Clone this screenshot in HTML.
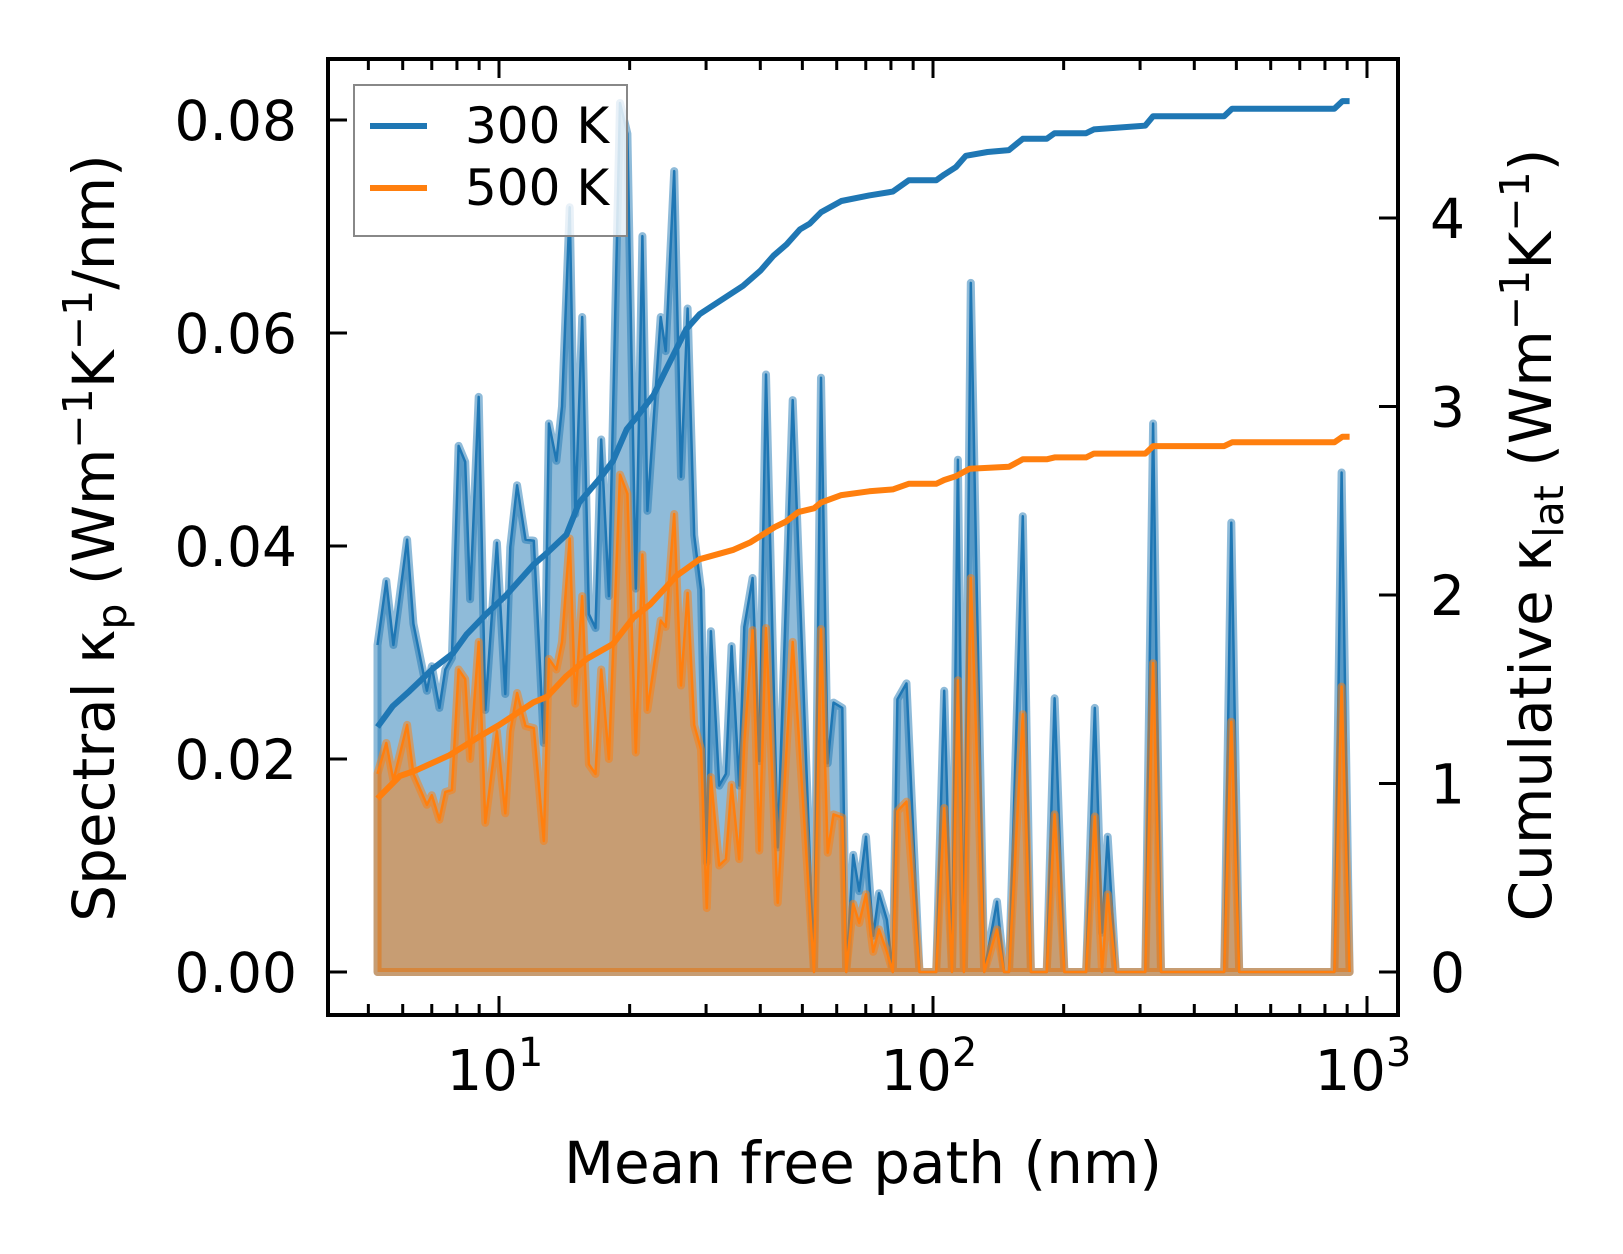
<!DOCTYPE html>
<html><head><meta charset="utf-8">
<style>
html,body{margin:0;padding:0;background:#fff;}
svg{display:block;}
text{font-family:"DejaVu Sans","Liberation Sans",sans-serif;fill:#000;}
</style></head>
<body>
<svg id="chart" width="1623" height="1254" viewBox="0 0 1623 1254" xmlns="http://www.w3.org/2000/svg">
<rect x="0" y="0" width="1623" height="1254" fill="#fff"/>
<g id="plot"></g>
<g id="axes"></g>
</svg>
<script>
// ---- data ----
const mfp = [5.25,5.50,5.71,6.14,6.35,6.82,7.00,7.29,7.52,7.79,8.07,8.36,8.58,8.98,9.30,9.89,10.34,10.62,11.01,11.51,12.03,12.68,13.03,13.56,13.97,14.55,14.99,15.55,16.11,16.69,17.20,17.92,19.00,19.76,20.66,21.40,21.97,23.58,24.22,25.33,26.27,27.20,28.17,29.20,30.12,30.78,32.17,33.33,34.35,35.77,36.74,38.40,39.80,41.23,43.87,47.5,
53.2,55.2,57.2,59.0,61.8,63.1,65.5,67.6,70.1,72.8,75.1,78.3,80.8,82.8,86.9,93.1,101.7,106.1,110.6,114.1,117.8,122.2,131.2,140.4,145.8,149.7,161.0,168.1,182.8,190.6,200.8,225.3,235.9,245.1,252.7,263.7,308.5,321.5,335.3,468.8,486.7,507.6,841,874,912];
const spec300 = [.0307,.0367,.0307,.0406,.0327,.0264,.0287,.0248,.0284,.0295,.0494,.0479,.0350,.0540,.0246,.0403,.0261,.0399,.0457,.0406,.0405,.0215,.0515,.0480,.0531,.0718,.0430,.0615,.0336,.0323,.0500,.0353,.0816,.0787,.0360,.0691,.0433,.0615,.0583,.0752,.0465,.0623,.0410,.0359,.0103,.0320,.0175,.0186,.0306,.0175,.0324,.0370,.0198,.0561,.0117,.0537,
0,.0558,.0196,.0253,.0248,0,.0110,.0076,.0127,.0034,.0074,.0049,0,.0256,.0271,0,0,.0264,0,.0481,0,.0647,0,.0066,0,0,.0428,0,0,.0257,0,0,.0248,.0037,.0127,0,0,.0515,0,0,.0422,0,0,.0469,0];
const spec500 = [.0186,.0215,.0180,.0232,.0186,.0157,.0166,.0143,.0169,.0171,.0284,.0275,.0200,.0310,.0140,.0226,.0149,.0226,.0262,.0231,.0229,.0123,.0294,.0284,.0310,.0407,.0252,.0353,.0195,.0186,.0284,.0200,.0467,.0449,.0206,.0392,.0246,.0330,.0324,.0430,.0269,.0356,.0232,.0209,.0060,.0183,.0100,.0106,.0176,.0106,.0215,.0321,.0114,.0323,.0065,.0310,
0,.0322,.0112,.0148,.0145,0,.0064,.0046,.0073,.0019,.0040,.0019,0,.0151,.0160,0,0,.0154,0,.0274,0,.0370,0,.0040,0,0,.0242,0,0,.0148,0,0,.0146,0,.0073,0,0,.0290,0,0,.0235,0,0,.0268,0];
const cumX300 = [5.25,5.69,6.22,7.05,7.83,8.41,9.35,10.4,12.0,13.0,14.3,15.3,17.1,18.3,19.7,20.7,22.7,24.3,27.0,29.0,32.3,36.5,40.0,42.9,46.0,49.4,52.0,55.2,61.5,71.3,80.8,87.9,101.7,106.1,112.9,119,133.5,149.7,161.0,182.8,190.6,225.3,234.8,308.5,321.5,468.8,488.9,841,878,912];
const cum300 = [1.30,1.41,1.49,1.61,1.69,1.79,1.90,2.00,2.16,2.23,2.32,2.49,2.62,2.71,2.88,2.94,3.06,3.20,3.41,3.49,3.56,3.64,3.72,3.80,3.86,3.94,3.97,4.03,4.09,4.12,4.14,4.20,4.20,4.23,4.27,4.33,4.35,4.36,4.42,4.42,4.45,4.45,4.47,4.49,4.54,4.54,4.58,4.58,4.62,4.62];
const cumX500 = [5.25,5.91,6.44,7.69,9.02,10.0,12.0,12.9,14.3,15.9,18.3,20.4,22.3,25.6,29.0,34.7,38.0,40.5,43.2,45.9,48.9,53.2,55.2,61.5,71.3,80.8,87.9,101.7,106.1,112.9,121.5,149.7,161.0,182.8,190.6,225.3,234.8,308.5,321.5,468.8,488.9,841,878,912];
const cum500 = [0.92,1.04,1.07,1.15,1.25,1.31,1.43,1.46,1.57,1.66,1.74,1.88,1.95,2.10,2.19,2.24,2.28,2.32,2.36,2.39,2.44,2.46,2.49,2.53,2.55,2.56,2.59,2.59,2.61,2.63,2.67,2.68,2.72,2.72,2.73,2.73,2.75,2.75,2.79,2.79,2.81,2.81,2.84,2.84];
const yTicksL = [0,0.02,0.04,0.06,0.08];
const yTickLabelsL = ["0.00","0.02","0.04","0.06","0.08"];
const yTicksR = [0,1,2,3,4];
const xMajor = [1,2,3];

// ---- axes geometry ----
const L=328,R=1398,T=59,B=1015;
const X = v => 499 + 434*(Math.log10(v)-1);
const YL = v => 972 - v*10650;
const YR = v => 972 - v*188.5;
const NS="http://www.w3.org/2000/svg";
const plot=document.getElementById('plot'), axes=document.getElementById('axes');
function mk(tag,attrs,parent){const e=document.createElementNS(NS,tag);for(const k in attrs)e.setAttribute(k,attrs[k]);parent.appendChild(e);return e;}

function drawSpec(vals,color,name){
  let d=`M${X(mfp[0])},${YL(0)}`;
  mfp.forEach((m,i)=>{d+=` L${X(m).toFixed(1)},${YL(vals[i]).toFixed(1)}`;});
  d+=` L${X(mfp[mfp.length-1])},${YL(0)} Z`;
  const f=mk('path',{d:d,fill:color,'fill-opacity':0.5,stroke:color,'stroke-opacity':0.5,'stroke-width':8,'stroke-linejoin':'round'},plot);
  
  
  let d2='';
  mfp.forEach((m,i)=>{d2+=(i?' L':'M')+X(m).toFixed(1)+','+YL(vals[i]).toFixed(1);});
  const l=mk('path',{d:d2,fill:'none',stroke:color,'stroke-width':2.5,'stroke-linejoin':'round'},plot);
  
  
}
drawSpec(spec300,'#1f77b4','spectral-300k');
drawSpec(spec500,'#ff7f0e','spectral-500k');

function drawCum(xs,vals,color,name){
  let d='';
  xs.forEach((m,i)=>{d+=(i?' L':'M')+X(m).toFixed(1)+','+YR(vals[i]).toFixed(1);});
  const p=mk('path',{d:d,fill:'none',stroke:color,'stroke-width':6,'stroke-linejoin':'round'},plot);
  
  
}
drawCum(cumX300,cum300,'#1f77b4','cumulative-300k');
drawCum(cumX500,cum500,'#ff7f0e','cumulative-500k');

// spines
const sp=mk('rect',{x:L,y:T,width:R-L,height:B-T,fill:'none',stroke:'#000','stroke-width':4},axes);



// x ticks
for(let dec=0;dec<=3;dec++){
  for(let k=1;k<10;k++){
    const v=k*Math.pow(10,dec);
    const x=X(v);
    if(x<L+2||x>R-2) continue;
    const len=k===1?19:11;
    const t1=mk('line',{x1:x,x2:x,y1:B,y2:B-len,stroke:'#000','stroke-width':3},axes);
    
    
    const t2=mk('line',{x1:x,x2:x,y1:T,y2:T+len,stroke:'#000','stroke-width':3},axes);
    
    
  }
}
xMajor.forEach(e=>{
  const x=X(Math.pow(10,e));
  const t=mk('text',{x:x-4,y:1090,'font-size':56,'text-anchor':'middle'},axes);
  t.innerHTML=`10<tspan dy="-24" font-size="40">${e}</tspan>`;
  
  
});
// left y ticks
yTicksL.forEach((v,i)=>{
  const y=YL(v);
  const l=mk('line',{x1:L,x2:L+19,y1:y,y2:y,stroke:'#000','stroke-width':3},axes);
  
  
  const t=mk('text',{x:297,y:y+20,'font-size':55,'text-anchor':'end'},axes);
  t.textContent=yTickLabelsL[i];
  
  
});
// right y ticks
yTicksR.forEach(v=>{
  const y=YR(v);
  const l=mk('line',{x1:R,x2:R-19,y1:y,y2:y,stroke:'#000','stroke-width':3},axes);
  
  
  const t=mk('text',{x:1430,y:y+20,'font-size':55,'text-anchor':'start'},axes);
  t.textContent=String(v);
  
  
});
</script>
<svg style="position:absolute;left:0;top:0" width="1623" height="1254">
<text x="863" y="1183" font-size="58" text-anchor="middle">Mean free path (nm)</text>
<text transform="translate(114,538) rotate(-90)" font-size="58" text-anchor="middle">Spectral κ<tspan dy="12" font-size="41">p</tspan><tspan dy="-12"> (Wm</tspan><tspan dy="-22" font-size="41">−1</tspan><tspan dy="22">K</tspan><tspan dy="-22" font-size="41">−1</tspan><tspan dy="22">/nm)</tspan></text>
<text transform="translate(1551,535) rotate(-90)" font-size="58" text-anchor="middle">Cumulative κ<tspan dy="12" font-size="41">lat</tspan><tspan dy="-12"> (Wm</tspan><tspan dy="-22" font-size="41">−1</tspan><tspan dy="22">K</tspan><tspan dy="-22" font-size="41">−1</tspan><tspan dy="22">)</tspan></text>
<g>
<rect x="354" y="85" width="273" height="151" fill="#fff" fill-opacity="0.8" stroke="#888" stroke-width="2"/>
<line x1="370" y1="126" x2="427" y2="126" stroke="#1f77b4" stroke-width="6"/>
<text x="465" y="143" font-size="50">300 K</text>
<line x1="370" y1="188" x2="427" y2="188" stroke="#ff7f0e" stroke-width="6"/>
<text x="465" y="205" font-size="50">500 K</text>
</g>
</svg>
</body></html>
